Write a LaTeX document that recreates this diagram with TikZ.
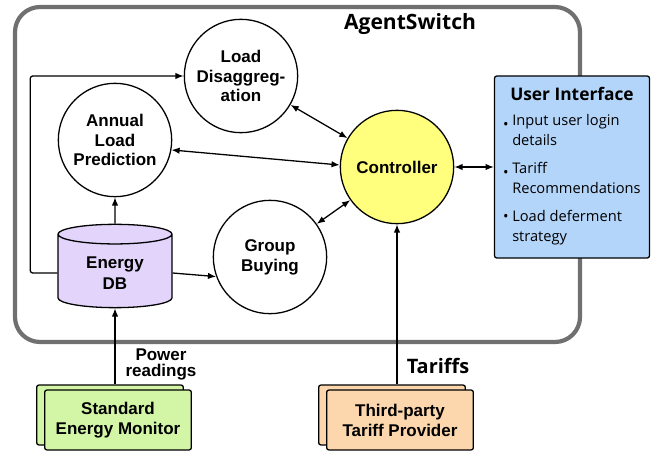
\documentclass[tikz,border=0pt]{standalone}
\usepackage{fontspec}
\setmainfont{Liberation Sans}
\newfontfamily\headfont{Open Sans}
\usetikzlibrary{positioning,shapes.geometric,shadows,arrows.meta,calc}

\definecolor{framegray}{RGB}{112,112,112}
\definecolor{ctrlyellow}{RGB}{255,255,125}
\definecolor{dbpurple}{RGB}{226,212,250}
\definecolor{uiblue}{RGB}{180,213,250}
\definecolor{monitorgreen}{RGB}{210,246,165}
\definecolor{tariffpeach}{RGB}{252,214,172}

\newcommand{\lowdot}{\raisebox{-0.55ex}{\textbullet}}
\newcommand{\middot}{\textbullet}

\tikzset{
  proc/.style={circle, draw, line width=1.1pt, minimum size=3.4cm, inner sep=0pt,
    align=center, font=\bfseries\fontsize{14.5}{17}\selectfont},
  db/.style={cylinder, shape border rotate=90, aspect=0.3, draw, line width=1.1pt,
    fill=dbpurple, minimum width=3.42cm, minimum height=2.5cm, align=center,
    font=\bfseries\fontsize{14.5}{17.5}\selectfont},
  source/.style={rectangle, rounded corners=2pt, draw, line width=1.1pt,
    minimum width=4.4cm, minimum height=1.8cm, align=center,
    font=\bfseries\fontsize{14.5}{17}\selectfont,
    copy shadow={shadow xshift=-0.24cm, shadow yshift=0.15cm}},
  uibox/.style={rectangle, rounded corners=2pt, draw, line width=1.1pt, fill=uiblue,
    minimum width=4.65cm, minimum height=5.46cm, inner sep=2pt,
    font=\headfont\fontsize{12.5}{17}\selectfont},
  arr/.style={-{Latex[length=7pt,width=5.5pt]}, line width=1.1pt},
  darr/.style={{Latex[length=7pt,width=5.5pt]}-{Latex[length=7pt,width=5.5pt]}, line width=1.1pt},
  lbl/.style={font=\bfseries\fontsize{14.5}{13.6}\selectfont, align=center}
}

\begin{document}
\begin{tikzpicture}[x=0.03cm, y=-0.03cm]
  \useasboundingbox (0,0) rectangle (652,451);
  % AgentSwitch frame
  \draw[framegray, line width=3.6pt, rounded corners=0.75cm] (15,7) rectangle (580,342);
  \node[font=\headfont\bfseries\fontsize{18}{20}\selectfont] (title) at (410,24) {AgentSwitch};

  % processes
  \node[proc] (ld) at (241,76) {Load\\Disaggreg-\\ation};
  \node[proc] (alp) at (115,140) {Annual\\Load\\Prediction};
  \node[proc, fill=ctrlyellow] (ctrl) at (397,167) {Controller};
  \node[proc] (gb) at (270,257) {Group\\Buying};
  \node[db] (edb) at (115,273) {Energy\\DB};

  % user interface
  \node[uibox] (ui) at (572,167) {%
    \begin{tabular}{@{}c@{\hspace{3pt}}l@{}}
      \multicolumn{2}{c}{\bfseries\fontsize{14.8}{17}\selectfont User Interface}\\[4pt]
      \lowdot & Input user login\\
      & details\\[7pt]
      \lowdot & Tariff\\
      & Recommendations\\[7pt]
      \middot & Load deferment\\
      & strategy
    \end{tabular}};

  % external sources
  \node[source, fill=monitorgreen] (sem) at (118,420) {Standard\\Energy Monitor};
  \node[source, fill=tariffpeach] (tp) at (400,420) {Third-party\\Tariff Provider};

  % connectors
  \draw[arr] (edb) -- (alp);
  \draw[arr, rounded corners=2pt] (edb.west) -- ++(-27,0) |- (ld.west);
  \draw[arr] (edb.east) -- (gb.200);
  \draw[darr] (ld) -- (ctrl);
  \draw[darr] (alp.-10) -- (ctrl.178);
  \draw[darr] (gb) -- (ctrl);
  \draw[darr] (ctrl.east) -- (ui.west);
  \draw[arr] ($(edb.south |- sem.north)+(0,-5)$) -- (edb.south);
  \draw[arr] ($(ctrl.south |- tp.north)+(0,-5)$) -- (ctrl.south);

  % labels
  \node[lbl] (power) at (161,364) {Power\\readings};
  \node[font=\headfont\bfseries\fontsize{17}{20}\selectfont] (tariffs) at (438,366) {Tariffs};
\end{tikzpicture}
\end{document}
